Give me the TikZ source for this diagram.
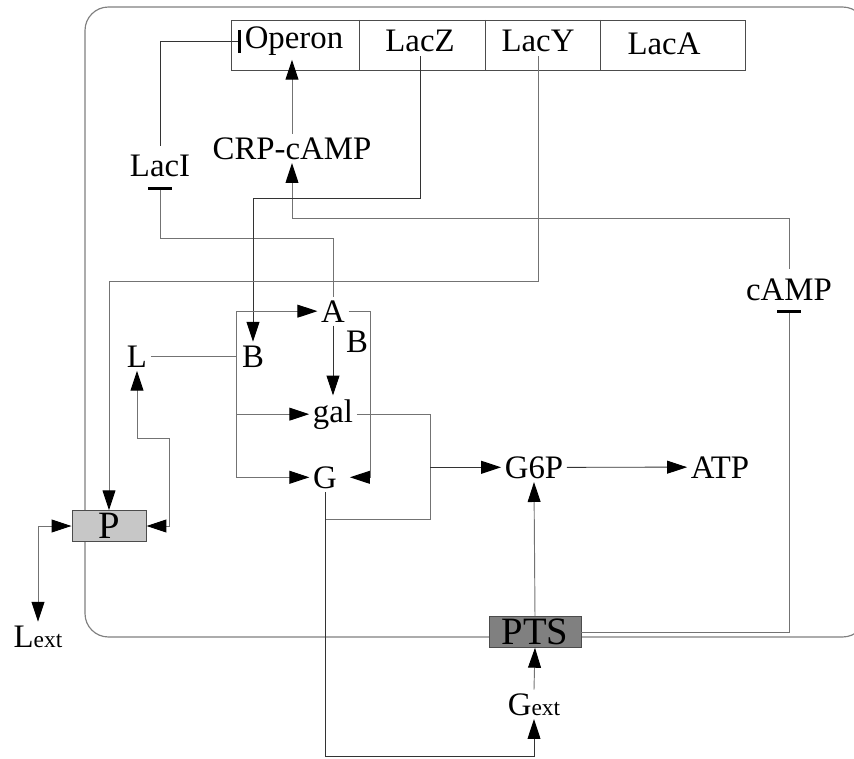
\documentclass[tikz,border=0pt]{standalone}
\usepackage{fontspec}
\setmainfont{Liberation Serif}
\usetikzlibrary{arrows.meta}

\begin{document}
\begin{tikzpicture}[x=0.03cm, y=-0.03cm,
  >={Triangle[length=17pt,width=11pt,color=black]},
  every node/.style={font=\fontsize{28}{30}\selectfont, inner sep=3pt},
  wire/.style={draw=black!80, line width=0.8pt},
  lt/.style={draw=black!55},
  act/.style={wire, ->},
  both/.style={wire, <->},
  rep/.style={wire, -{Bar[width=20pt,line width=2.5pt,color=black]}},
  box/.style={draw=black!70, line width=0.8pt, inner sep=0pt,
    minimum height=0.92cm, font=\fontsize{33}{35}\selectfont}]
\useasboundingbox (0,0) rectangle (854,759);
\draw[black!50, line width=1pt, rounded corners=20pt] (85,7) rectangle (866,637);
\draw[black!70, line width=0.8pt] (231,20) rectangle (745,70);
\foreach \x in {359,485,600} \draw[black!70, line width=0.8pt] (\x,20) -- (\x,70);

\node[anchor=base] (opr) at (294,49) {Operon};
\node[anchor=base] (lacz) at (420,52) {LacZ};
\node[anchor=base] (lacy) at (538,52) {LacY};
\node[anchor=base] (laca) at (664,55) {LacA};
\node[anchor=base] (crp) at (292,159) {CRP-cAMP};
\node[anchor=base, inner ysep=8pt] (laci) at (160,177) {LacI};
\node[anchor=base, inner ysep=8pt] (camp) at (789,300) {cAMP};
\node[anchor=base] (a) at (333,322) {A};
\node[anchor=base] (ab) at (357,352) {B};
\node[anchor=base] (b) at (253,367) {B};
\node[anchor=base] (l) at (137,367) {L};
\node[anchor=base] (gal) at (333,422) {gal};
\node[anchor=base] (g) at (325,488) {G};
\node[anchor=base] (g6p) at (534,478) {G6P};
\node[anchor=base] (atp) at (720,478) {ATP};
\node[box, fill=black!22, minimum width=2.22cm] (p) at (109,526) {P};
\node[box, fill=black!50, minimum width=2.76cm] (pts) at (535,632) {PTS};
\node[anchor=base] (lext) at (38,647) {L{\fontsize{20}{22}\selectfont ext}};
\node[anchor=base] (gext) at (534,715) {G{\fontsize{20}{22}\selectfont ext}};

\draw[rep] (laci.north) |- (opr.west);
\draw[rep, lt] (a.north) -- (a.north |- 0,238) -| (laci.south);
\draw[act, lt] (crp.north) -- (crp.north |- opr.south);
\draw[act, lt] (camp.north) -- (camp.north |- 0,218) -| (crp.south);
\draw[act] (lacz.south) -- (lacz.south |- 0,198) -| (b.north);
\draw[act, lt] (lacy.south) -- (lacy.south |- 0,281) -| (p.north);

\draw[wire, lt] (l.east) -- (l.east -| 236,0);
\draw[wire, lt] (a.west -| 236,0) -- (g.west -| 236,0);
\draw[act, lt] (a.west -| 236,0) -- (a.west);
\draw[act, lt] (gal.west -| 236,0) -- (gal.west);
\draw[act, lt] (g.west -| 236,0) -- (g.west);
\draw[act, lt, shorten >=8pt] (a.east) -- (a.east -| 370,0) |- (g.east);
\draw[act] (a.south) -- (gal.north);

\draw[wire, lt] (gal.east) -- (gal.east -| 430,0) |- (g.south |- 0,519);
\draw[act] (430,0 |- g6p.west) -- (g6p.west);
\draw[act] (g6p.east) -- (atp.west);
\draw[act, lt] (pts.north) -- (g6p.south);
\draw[act, lt] (gext.north) -- (pts.south);
\draw[act] (g.south) -- (g.south |- 0,756) -| (gext.south);
\draw[rep, lt] (pts.east) -| (camp.south);

\draw[both, lt] (l.south) -- (l.south |- 0,438) -| (p.east -| 169,0) -- (p.east);
\draw[both, lt] (p.west) -- (p.west -| 38,0) -- (lext.north);
\end{tikzpicture}
\end{document}
